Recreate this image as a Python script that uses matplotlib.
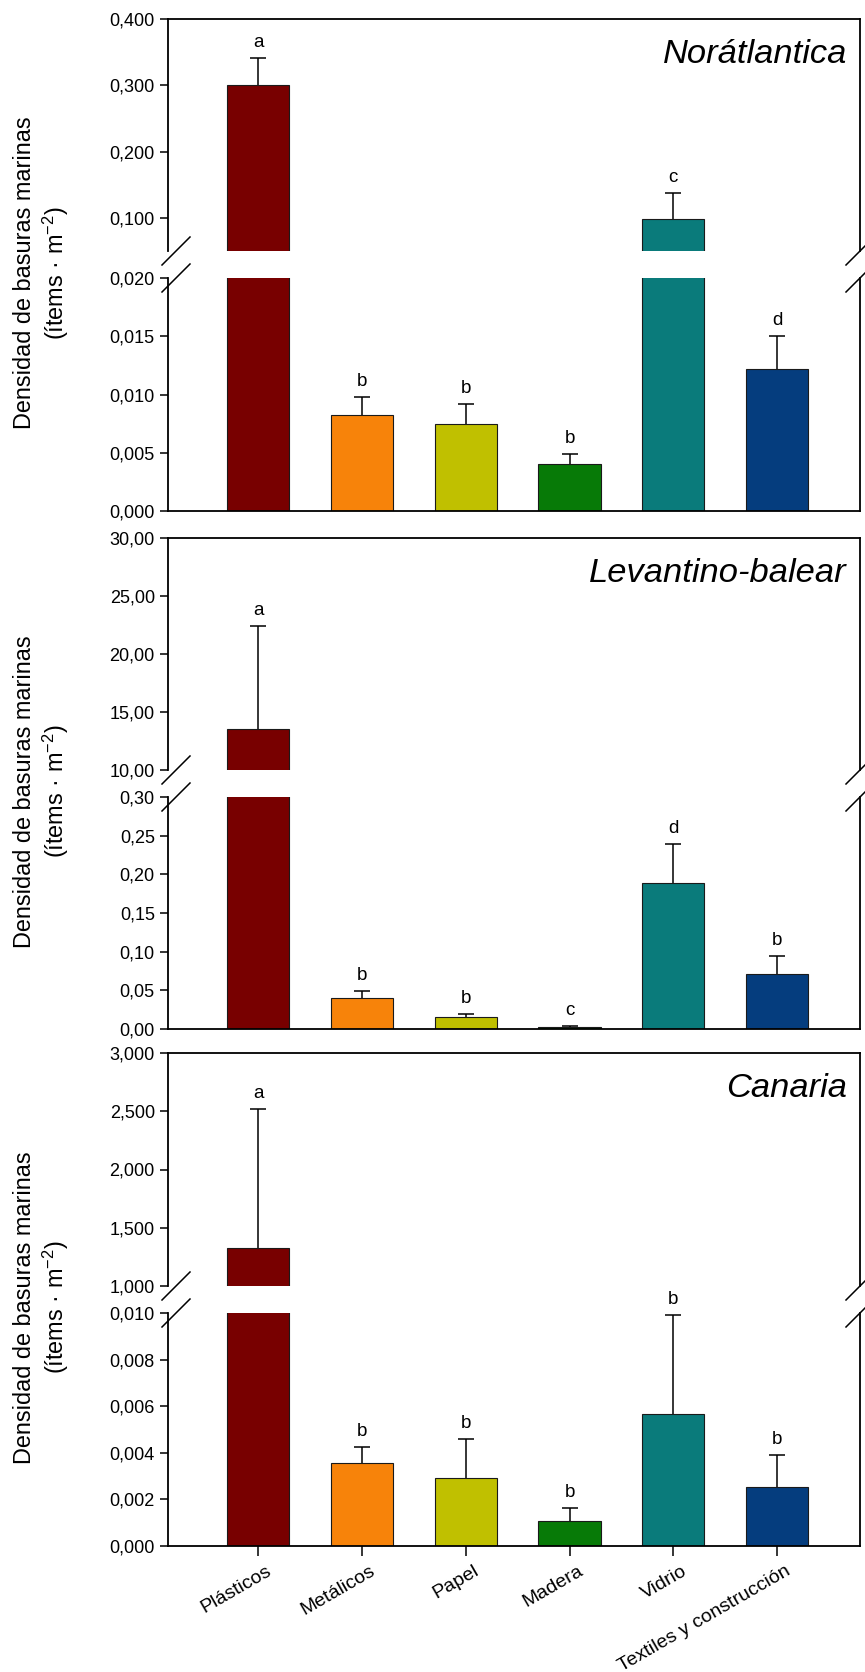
import matplotlib
matplotlib.use('Agg')
import matplotlib.pyplot as plt
import matplotlib.transforms as mtransforms
from matplotlib.lines import Line2D
import numpy as np

plt.rcParams['font.family'] = ['Liberation Sans', 'DejaVu Sans']
plt.rcParams['mathtext.default'] = 'regular'

categories = ['Plásticos', 'Metálicos', 'Papel', 'Madera', 'Vidrio', 'Textiles y construcción']
bar_colors = ['#780000', '#f7830a', '#c0c000', '#077a07', '#0a7b7b', '#053d7e']

regions = ['Norátlantica', 'Levantino-balear', 'Canaria']

# media y error (solo parte superior) por region
nor_values = [0.300, 0.0082, 0.0075, 0.0040, 0.099, 0.0122]
nor_errors = [0.041, 0.0016, 0.0017, 0.0009, 0.039, 0.0028]
nor_letters = ['a', 'b', 'b', 'b', 'c', 'd']

lev_values = [13.5, 0.040, 0.016, 0.002, 0.189, 0.071]
lev_errors = [8.9, 0.009, 0.004, 0.0015, 0.050, 0.023]
lev_letters = ['a', 'b', 'b', 'c', 'd', 'b']

can_values = [1.323, 0.00357, 0.0029, 0.00106, 0.00567, 0.00252]
can_errors = [1.200, 0.00069, 0.00168, 0.00056, 0.00424, 0.00139]
can_letters = ['a', 'b', 'b', 'b', 'b', 'b']

# ejes cortados: tramo superior y tramo inferior
nor_upper_ticks = [0.1, 0.2, 0.3, 0.4]
nor_lower_ticks = [0.0, 0.005, 0.010, 0.015, 0.020]
lev_upper_ticks = [10, 15, 20, 25, 30]
lev_lower_ticks = [0.0, 0.05, 0.10, 0.15, 0.20, 0.25, 0.30]
can_upper_ticks = [1.0, 1.5, 2.0, 2.5, 3.0]
can_lower_ticks = [0.0, 0.002, 0.004, 0.006, 0.008, 0.010]

nor_upper_lim = (0.05, 0.4)
lev_upper_lim = (10, 30)
can_upper_lim = (1.0, 3.0)

panels = [
    (regions[0], nor_values, nor_errors, nor_letters, nor_upper_ticks, nor_lower_ticks, nor_upper_lim, 3),
    (regions[1], lev_values, lev_errors, lev_letters, lev_upper_ticks, lev_lower_ticks, lev_upper_lim, 2),
    (regions[2], can_values, can_errors, can_letters, can_upper_ticks, can_lower_ticks, can_upper_lim, 3),
]

W, H = 865, 1672
left_px, right_px = 168, 860
# top, upper bottom, lower top, bottom (pixels)
panel_px = [(19, 251, 278, 511), (538, 770, 797, 1029), (1053, 1286, 1313, 1546)]

fig = plt.figure(figsize=(W / 100, H / 100), dpi=100)


def add_axes(top, bottom):
    return fig.add_axes([left_px / W, 1 - bottom / H, (right_px - left_px) / W, (bottom - top) / H])


def fmt(v, d):
    return '{:.{}f}'.format(v, d).replace('.', ',')


def px_line(x0, y0, x1, y1):
    fig.add_artist(Line2D([x0 / W, x1 / W], [1 - y0 / H, 1 - y1 / H],
                          transform=fig.transFigure, color='black', lw=1.1))


x = np.arange(len(categories))

for i, (name, values, errors, letters, up_ticks, lo_ticks, up_lim, dec) in enumerate(panels):
    top, up_bottom, lo_top, bottom = panel_px[i]
    ax_up = add_axes(top, up_bottom)
    ax_lo = add_axes(lo_top, bottom)
    lo_lim = (lo_ticks[0], lo_ticks[-1])
    tops = np.array(values) + np.array(errors)

    for ax in (ax_up, ax_lo):
        ax.bar(x, values, width=0.6, color=bar_colors, edgecolor='#1a1a1a', linewidth=0.8, zorder=2)
        ax.vlines(x, values, tops, color='black', lw=1.1, zorder=1)
        ax.plot(x, tops, linestyle='none', marker='_', markersize=11, mew=1.1, color='black', zorder=1)
        ax.set_xlim(-0.87, 5.8)
        for s in ax.spines.values():
            s.set_linewidth(1.3)
        ax.tick_params(axis='y', direction='out', length=6, width=1.1, labelsize=13)

    ax_up.set_ylim(*up_lim)
    ax_up.set_yticks(up_ticks, [fmt(t, dec) for t in up_ticks])
    ax_up.spines['bottom'].set_visible(False)
    ax_up.tick_params(axis='x', bottom=False, labelbottom=False)

    ax_lo.set_ylim(*lo_lim)
    ax_lo.set_yticks(lo_ticks, [fmt(t, dec) for t in lo_ticks])
    ax_lo.spines['top'].set_visible(False)

    if i == 2:
        ax_lo.set_xticks(x, categories)
        ax_lo.tick_params(axis='x', direction='out', length=7, width=1.1, labelsize=14, pad=5)
        shift = mtransforms.ScaledTranslation(8 / 100, 0, fig.dpi_scale_trans)
        for lab in ax_lo.get_xticklabels():
            lab.set_rotation(30)
            lab.set_ha('right')
            lab.set_va('top')
            lab.set_rotation_mode('anchor')
            lab.set_transform(lab.get_transform() + shift)
    else:
        ax_lo.tick_params(axis='x', bottom=False, labelbottom=False)

    for xi, t, letter in zip(x, tops, letters):
        ax = ax_up if t > lo_lim[1] else ax_lo
        ax.annotate(letter, (xi, t), xytext=(0, 5), textcoords='offset points',
                    ha='center', va='bottom', fontsize=13.5)

    ax_up.text(0.981, 0.81, name, transform=ax_up.transAxes, ha='right', va='baseline',
               fontsize=24.8, style='italic')

    # marcas de corte
    for edge in (up_bottom, lo_top):
        px_line(left_px + 8 - 14, edge + 14, left_px + 8 + 14, edge - 14)
        px_line(right_px - 14, edge + 14, right_px + 14, edge - 14)

    fig.text(42 / W, 1 - ((top + bottom) / 2 + 8) / H,
             'Densidad de basuras marinas\n(ítems · m$^{-2}$)',
             rotation=90, ha='center', va='center', fontsize=16.9,
             multialignment='center', linespacing=1.25)

fig.savefig('out.png', dpi=100)
